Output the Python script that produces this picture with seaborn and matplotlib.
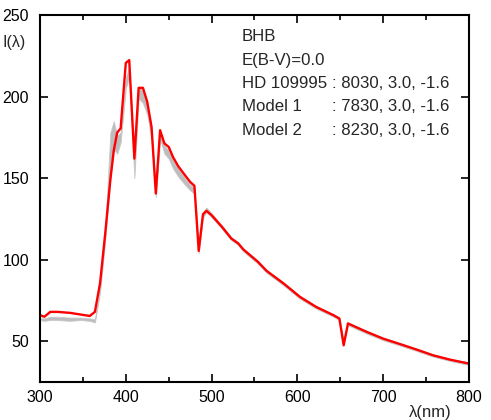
import numpy as np
import pandas as pd
import matplotlib
matplotlib.use("Agg")
import matplotlib.pyplot as plt
from matplotlib.ticker import MultipleLocator
import seaborn as sns

# wavelength grid (nm)
wavelength = [300, 305, 312, 320, 335, 347, 358, 364, 370, 376, 382, 386, 390, 394,
              400, 404, 410, 415, 420, 425, 430, 435, 440, 445, 450, 455, 461, 469,
              475, 480, 485, 490, 494, 500, 512, 523, 531, 537, 554, 564, 584, 603,
              622, 642, 649, 654, 659, 681, 700, 720, 739, 758, 778, 800]

# observed star HD 109995
hd109995 = [66, 65, 68, 68, 67.4, 66.4, 65.5, 68, 85.6, 116, 149, 167, 178, 180.5,
            220.7, 222.4, 162, 205.4, 205.4, 196.8, 181.5, 140.6, 179.4, 171.3, 169.2,
            163, 157.4, 151.8, 147.7, 145.3, 105.4, 127.9, 130, 127.3, 120.2, 113,
            110, 106.3, 98.7, 93.2, 85.4, 77.2, 71, 66, 63.9, 47.5, 60.9, 55.7, 51.6,
            48.2, 44.9, 41.4, 38.7, 36.3]

# model spectra (grey band edges)
model1 = [63, 62.5, 63, 63, 62.5, 63, 62.5, 61.5, 80, 112, 150, 168, 165, 172,
          205, 212, 150, 199, 196, 189, 174, 138.5, 174, 165, 162, 156, 151, 146,
          142.5, 140.5, 104, 126, 129, 126, 119, 112, 109, 105, 97.5, 92, 84.2, 76,
          70, 65, 63, 48.5, 59.8, 54.6, 50.6, 47.3, 44, 40.6, 37.9, 35.5]
model2 = [64, 64, 65, 65, 64.5, 64.5, 64, 63.5, 84, 118, 178, 185, 176, 178,
          212, 218, 158, 206, 204, 196, 180, 142, 179, 170, 167, 161, 156, 150,
          146, 144, 107, 129, 132, 128.5, 121, 113.8, 110.8, 107, 99.4, 93.8, 86,
          77.8, 71.6, 66.6, 64.4, 50, 61.5, 56.2, 52.1, 48.7, 45.4, 41.9, 39.2, 36.8]

labels_left = ["BHB", "E(B-V)=0.0", "HD 109995", "Model 1", "Model 2"]
labels_right = ["", "", ": 8030, 3.0, -1.6", ": 7830, 3.0, -1.6", ": 8230, 3.0, -1.6"]

sns.set_style("ticks")
plt.rcParams['font.family'] = ['Liberation Sans', 'DejaVu Sans']

df = pd.DataFrame({'wl': wavelength, 'hd': hd109995, 'm1': model1, 'm2': model2})

fig = plt.figure(figsize=(4.91, 4.20), dpi=100)
ax = fig.add_axes([0.0815, 0.0905, 0.8735, 0.8735])

ax.fill_between(df['wl'], df['m1'], df['m2'], color='#bdbdbd', lw=0.6, edgecolor='#c8c8c8')
sns.lineplot(data=df, x='wl', y='hd', color='#ff0000', lw=1.7, ax=ax)

ax.set_xlim(300, 800)
ax.set_ylim(25, 250)
ax.xaxis.set_major_locator(MultipleLocator(100))
ax.xaxis.set_minor_locator(MultipleLocator(50))
ax.set_yticks([50, 100, 150, 200, 250])
ax.tick_params(direction='in', which='both', top=True, right=True, labelsize=11.5,
               width=1.2, color='black', labelcolor='black')
ax.tick_params(which='major', length=6)
ax.tick_params(which='minor', length=3.5)
ax.tick_params(axis='x', pad=6)
ax.tick_params(axis='y', pad=8)
for s in ax.spines.values():
    s.set_linewidth(1.5)
    s.set_color('black')
ax.set_xlabel('')
ax.set_ylabel('')

fig.text(0.006, 0.898, 'I(λ)', fontsize=11.5, ha='left', va='center')
fig.text(0.876, 0.018, 'λ(nm)', fontsize=12, ha='center', va='center')

for i, (a, b) in enumerate(zip(labels_left, labels_right)):
    yy = 0.912 - i * 0.0555
    fig.text(0.492, yy, a, fontsize=12.1, ha='left', va='center')
    if b:
        fig.text(0.676, yy, b, fontsize=12.1, ha='left', va='center')

fig.savefig('out.png', dpi=100)
